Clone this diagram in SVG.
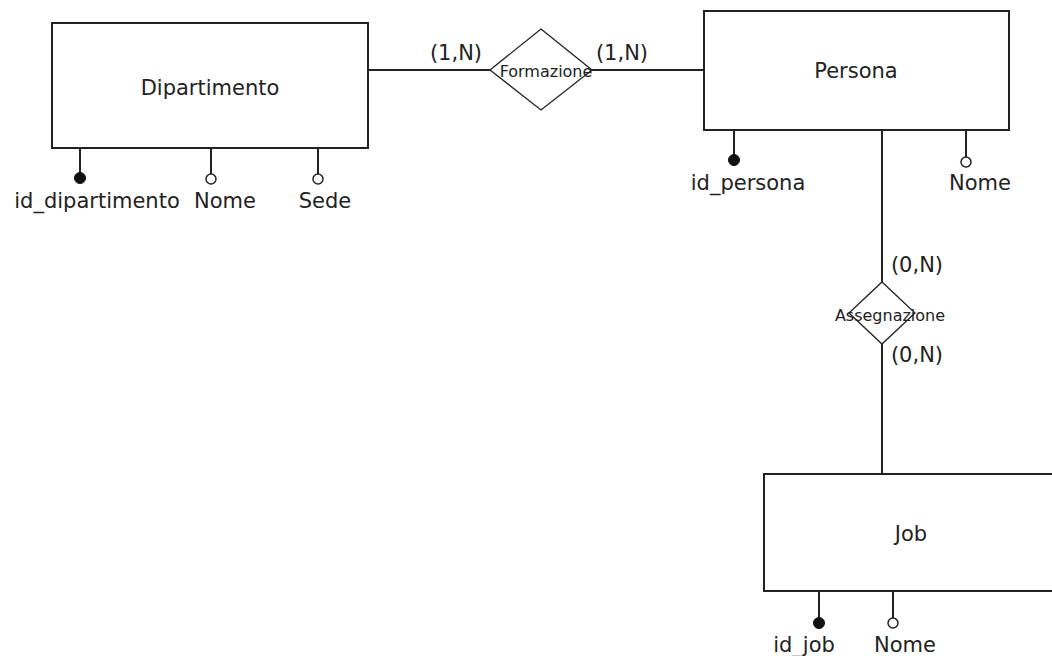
<svg xmlns="http://www.w3.org/2000/svg" width="1052" height="656" viewBox="0 0 1052 656">
<style>
.ent{fill:#fff;stroke:#222;stroke-width:2}
.rel{fill:#fff;stroke:#222;stroke-width:1.3}
.ln{stroke:#222;stroke-width:2;fill:none}
.t{font-family:"DejaVu Sans",sans-serif;font-size:21px;fill:#222}
.s{font-family:"DejaVu Sans",sans-serif;font-size:16px;fill:#222}
.key{fill:#111;stroke:#111;stroke-width:1}
.att{fill:#fff;stroke:#222;stroke-width:1.5}
</style>
<rect width="1052" height="656" fill="#fff"/>
<g id="connectors">
<line class="ln" x1="368" y1="70" x2="491" y2="70"/>
<line class="ln" x1="591" y1="70" x2="704" y2="70"/>
<line class="ln" x1="882" y1="130" x2="882" y2="282"/>
<line class="ln" x1="882" y1="344" x2="882" y2="474"/>
<text class="t" x="456" y="60" text-anchor="middle">(1,N)</text>
<text class="t" x="622" y="60" text-anchor="middle">(1,N)</text>
<text class="t" x="917" y="272" text-anchor="middle">(0,N)</text>
<text class="t" x="917" y="362" text-anchor="middle">(0,N)</text>
</g>
<g id="dipartimento">
<rect class="ent" x="52" y="23" width="316" height="125"/>
<text class="t" x="210" y="95" text-anchor="middle">Dipartimento</text>
<line class="ln" x1="80" y1="148" x2="80" y2="173"/>
<circle class="key" cx="80" cy="178" r="5.5"/>
<text class="t" x="97" y="208" text-anchor="middle">id_dipartimento</text>
<line class="ln" x1="211" y1="148" x2="211" y2="174"/>
<circle class="att" cx="211" cy="179" r="5"/>
<text class="t" x="225" y="208" text-anchor="middle">Nome</text>
<line class="ln" x1="318" y1="148" x2="318" y2="174"/>
<circle class="att" cx="318" cy="179" r="5"/>
<text class="t" x="325" y="208" text-anchor="middle">Sede</text>
</g>
<g id="formazione">
<polygon class="rel" points="541,29 592,70 541,110 490,70"/>
<text class="s" x="546" y="77" text-anchor="middle">Formazione</text>
</g>
<g id="persona">
<rect class="ent" x="704" y="11" width="305" height="119"/>
<text class="t" x="856" y="78" text-anchor="middle">Persona</text>
<line class="ln" x1="734" y1="130" x2="734" y2="155"/>
<circle class="key" cx="734" cy="160" r="5.5"/>
<text class="t" x="748" y="190" text-anchor="middle">id_persona</text>
<line class="ln" x1="966" y1="130" x2="966" y2="157"/>
<circle class="att" cx="966" cy="162" r="5"/>
<text class="t" x="980" y="190" text-anchor="middle">Nome</text>
</g>
<g id="assegnazione">
<polygon class="rel" points="882,282 915,313 882,344 849,313"/>
<text class="s" x="890" y="321" text-anchor="middle">Assegnazione</text>
</g>
<g id="job">
<rect class="ent" x="764" y="474" width="296" height="117"/>
<text class="t" x="911" y="541" text-anchor="middle">Job</text>
<line class="ln" x1="819" y1="591" x2="819" y2="618"/>
<circle class="key" cx="819" cy="623" r="5.5"/>
<text class="t" x="804" y="652" text-anchor="middle">id_job</text>
<line class="ln" x1="893" y1="591" x2="893" y2="618"/>
<circle class="att" cx="893" cy="623" r="5"/>
<text class="t" x="905" y="652" text-anchor="middle">Nome</text>
</g>
</svg>
